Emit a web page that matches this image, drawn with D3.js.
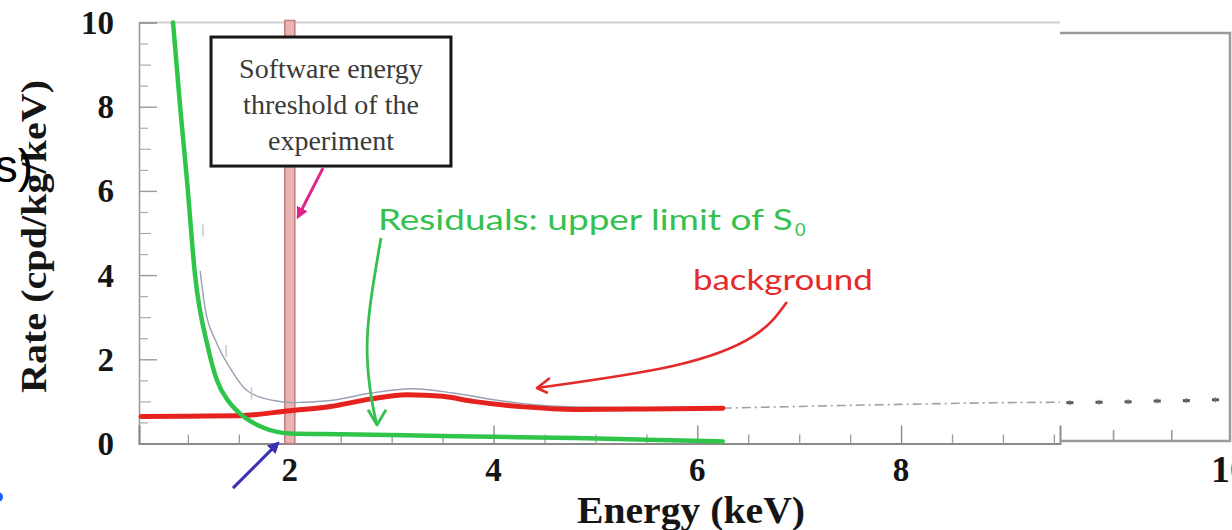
<!DOCTYPE html>
<html>
<head>
<meta charset="utf-8">
<script src="https://cdn.jsdelivr.net/npm/d3@7"></script>
<style>
  html, body { margin: 0; padding: 0; background: #ffffff; }
  svg { display: block; }
</style>
</head>
<body>
<svg id="chart" width="1232" height="530"></svg>
<script>
// ---- data (energy in keV, rate in cpd/kg/keV) ----
const residualE    = [0.854, 0.92, 0.991, 1.07, 1.197, 1.285, 1.40, 1.511, 1.737, 2.0, 2.5, 3.0, 3.5, 4.0, 4.8, 5.5, 6.25];
const residualRate = [10.0, 8.1, 6.25, 4.0, 2.28, 1.50, 1.0, 0.71, 0.38, 0.24, 0.22, 0.20, 0.18, 0.16, 0.13, 0.09, 0.05];

const backgroundE    = [0.54, 1.0, 1.5, 2.0, 2.4, 2.8, 3.15, 3.5, 3.8, 4.3, 4.8, 5.5, 6.25];
const backgroundRate = [0.64, 0.65, 0.66, 0.78, 0.88, 1.06, 1.16, 1.12, 1.0, 0.87, 0.81, 0.82, 0.84];

const totalE    = [1.12, 1.17, 1.28, 1.41, 1.58, 1.84, 2.03, 2.4, 2.8, 3.2, 3.6, 4.0, 4.4, 5.0, 6.25];
const totalRate = [4.1, 3.2, 2.4, 1.81, 1.26, 1.02, 0.97, 1.02, 1.2, 1.3, 1.2, 1.04, 0.92, 0.86, 0.84];

const extrapE    = [6.25, 7.0, 8.0, 9.0, 9.56];
const extrapRate = [0.84, 0.88, 0.93, 0.97, 0.98];

const lowPointE    = [1.148, 1.375, 1.625];
const lowPointRate = [5.06, 2.2, 1.19];

const highPointE    = [8.625, 8.875, 9.125, 9.375, 9.625, 9.875];
const highPointRate = [0.94, 0.95, 0.96, 0.98, 0.99, 1.01];

const thresholdE = 2.0;

const yTickValues = [0, 2, 4, 6, 8, 10];
const xTickValues = [2, 4, 6, 8];

// ---- scales ----
const x  = d3.scaleLinear().domain([0.52, 9.56]).range([139, 1060]);
const y  = d3.scaleLinear().domain([0, 10]).range([443.5, 22.5]);
// continuation panel on the right
const xR = d3.scaleLinear().domain([8.54, 10]).range([1060, 1230]);
const yR = d3.scaleLinear().domain([0, 10]).range([441, 33]);

const svg = d3.select("#chart");
const zip = (a, b) => a.map((v, i) => [v, b[i]]);

const serif = "'Liberation Serif', 'DejaVu Serif', serif";
const hand  = "'Lato', 'Open Sans', sans-serif";

// ---- frame & axes (main panel) ----
svg.append("line").attr("x1", x(0.52)).attr("x2", x(9.56))
  .attr("y1", y(10)).attr("y2", y(10)).attr("stroke", "#cfcfcf").attr("stroke-width", 2);

const yAxis = d3.axisRight(y).tickValues(yTickValues).tickSize(18).tickFormat("");
const gy = svg.append("g").attr("transform", `translate(${x(0.52)},0)`).call(yAxis);
gy.select(".domain").attr("stroke", "#9a9a9a").attr("stroke-width", 1.6);
gy.selectAll(".tick line").attr("stroke", "#9a9a9a").attr("stroke-width", 1.4);

const yMinor = d3.axisRight(y).tickValues(d3.range(0.5, 10, 1)).tickSize(9).tickFormat("");
const gym = svg.append("g").attr("transform", `translate(${x(0.52)},0)`).call(yMinor);
gym.select(".domain").remove();
gym.selectAll(".tick line").attr("stroke", "#aaaaaa").attr("stroke-width", 1.2);
const yOdd = d3.axisRight(y).tickValues([1, 3, 5, 7, 9]).tickSize(12).tickFormat("");
const gyo = svg.append("g").attr("transform", `translate(${x(0.52)},0)`).call(yOdd);
gyo.select(".domain").remove();
gyo.selectAll(".tick line").attr("stroke", "#aaaaaa").attr("stroke-width", 1.2);

const xAxis = d3.axisTop(x).tickValues(xTickValues).tickSize(18).tickFormat("");
const gx = svg.append("g").attr("transform", `translate(0,${y(0)})`).call(xAxis);
gx.select(".domain").attr("stroke", "#8a8a8a").attr("stroke-width", 2);
gx.selectAll(".tick line").attr("stroke", "#8a8a8a").attr("stroke-width", 1.4);
const xMinor = d3.axisTop(x).tickValues(d3.range(1, 9.6, 0.5).filter(v => v % 2 !== 0)).tickSize(9).tickFormat("");
const gxm = svg.append("g").attr("transform", `translate(0,${y(0)})`).call(xMinor);
gxm.select(".domain").remove();
gxm.selectAll(".tick line").attr("stroke", "#9a9a9a").attr("stroke-width", 1.3);

// tick labels
svg.append("g").selectAll("text").data(yTickValues).join("text")
  .attr("x", 114).attr("y", d => y(d)).attr("dy", "0.35em")
  .attr("text-anchor", "end")
  .attr("font-family", serif).attr("font-weight", "bold").attr("font-size", 33)
  .attr("fill", "#151515").text(d => d);

svg.append("g").selectAll("text").data(xTickValues).join("text")
  .attr("x", d => x(d)).attr("y", 481)
  .attr("text-anchor", "middle")
  .attr("font-family", serif).attr("font-weight", "bold").attr("font-size", 33)
  .attr("fill", "#151515").text(d => d);

// axis titles
svg.append("text")
  .attr("transform", "translate(46,236.5) rotate(-90)")
  .attr("text-anchor", "middle")
  .attr("font-family", serif).attr("font-weight", "bold").attr("font-size", 35)
  .attr("textLength", 313).attr("lengthAdjust", "spacingAndGlyphs")
  .attr("fill", "#151515").text("Rate (cpd/kg/keV)");

svg.append("text")
  .attr("x", 691).attr("y", 523).attr("text-anchor", "middle")
  .attr("font-family", serif).attr("font-weight", "bold").attr("font-size", 37)
  .attr("textLength", 228).attr("lengthAdjust", "spacingAndGlyphs")
  .attr("fill", "#151515").text("Energy (keV)");

// ---- continuation panel on the right ----
const rp = svg.append("g");
rp.append("path")
  .attr("d", `M${xR(8.54)},${yR(10)} H${xR(10)} V${yR(0)} H${xR(8.54)}`)
  .attr("fill", "none").attr("stroke", "#9a9a9a").attr("stroke-width", 2.5);
rp.selectAll("line.tk").data([9.0, 9.5]).join("line").attr("class", "tk")
  .attr("x1", d => xR(d)).attr("x2", d => xR(d))
  .attr("y1", yR(0)).attr("y2", yR(0) - 11)
  .attr("stroke", "#9a9a9a").attr("stroke-width", 1.6);
rp.append("text")
  .attr("x", xR(10)).attr("y", 482).attr("text-anchor", "middle")
  .attr("font-family", serif).attr("font-weight", "bold").attr("font-size", 38)
  .attr("fill", "#151515").text("10");

const hp = rp.selectAll("g.pt").data(zip(highPointE, highPointRate)).join("g").attr("class", "pt")
  .attr("transform", d => `translate(${xR(d[0])},${yR(d[1])})`);
hp.append("line").attr("x1", -3.5).attr("x2", 3.5).attr("stroke", "#555").attr("stroke-width", 3);
hp.append("line").attr("y1", -2.5).attr("y2", 2.5).attr("stroke", "#777").attr("stroke-width", 1.2);

// ---- threshold band ----
svg.append("rect")
  .attr("x", x(thresholdE) - 5).attr("width", 10)
  .attr("y", y(10) - 2).attr("height", y(0) - y(10) + 2)
  .attr("fill", "#ecb3b3").attr("stroke", "#c48080").attr("stroke-width", 1.6);

// ---- curves ----
const line = d3.line().x(d => x(d[0])).y(d => y(d[1])).curve(d3.curveMonotoneX);

svg.append("path").datum(zip(extrapE, extrapRate))
  .attr("d", line).attr("fill", "none")
  .attr("stroke", "#a0a0a8").attr("stroke-width", 1.6).attr("stroke-dasharray", "9,4,2,4");

svg.append("path").datum(zip(totalE, totalRate))
  .attr("d", line).attr("fill", "none")
  .attr("stroke", "#9aa0b4").attr("stroke-width", 1.4);

svg.append("g").selectAll("line").data(zip(lowPointE, lowPointRate)).join("line")
  .attr("x1", d => x(d[0])).attr("x2", d => x(d[0]))
  .attr("y1", d => y(d[1]) - 6).attr("y2", d => y(d[1]) + 6)
  .attr("stroke", "#c0c4ce").attr("stroke-width", 1.4);

svg.append("path").datum(zip(backgroundE, backgroundRate))
  .attr("d", line).attr("fill", "none")
  .attr("stroke", "#e5221e").attr("stroke-width", 5).attr("stroke-linecap", "round");

svg.append("path").datum(zip(residualE, residualRate))
  .attr("d", line).attr("fill", "none")
  .attr("stroke", "#2fc44a").attr("stroke-width", 4.5).attr("stroke-linecap", "round");

// ---- annotations ----
// threshold note box
svg.append("rect")
  .attr("x", x(1.227)).attr("y", y(9.655))
  .attr("width", x(3.582) - x(1.227)).attr("height", y(6.59) - y(9.655))
  .attr("fill", "#ffffff").attr("stroke", "#161616").attr("stroke-width", 3);
const noteLines = ["Software energy", "threshold of the", "experiment"];
svg.append("g").selectAll("text").data(noteLines).join("text")
  .attr("x", (x(1.227) + x(3.582)) / 2)
  .attr("y", (d, i) => 78 + i * 36)
  .attr("text-anchor", "middle")
  .attr("font-family", serif).attr("font-size", 28)
  .attr("fill", "#3a3a3a").text(d => d);

const defs = svg.append("defs");
function filledHead(id, color) {
  defs.append("marker").attr("id", id)
    .attr("viewBox", "0 0 10 10").attr("refX", 8).attr("refY", 5)
    .attr("markerWidth", 4).attr("markerHeight", 4).attr("orient", "auto")
    .append("path").attr("d", "M0,0 L10,5 L0,10 z").attr("fill", color);
}
filledHead("headMagenta", "#e0258c");
filledHead("headBlue", "#3b30b4");

const arrowLine = d3.line().x(d => x(d[0])).y(d => y(d[1])).curve(d3.curveNatural);
const straight = d3.line().x(d => x(d[0])).y(d => y(d[1]));

// magenta arrow to the threshold band
svg.append("path").datum([[2.326, 6.54], [2.08, 5.38]])
  .attr("d", straight).attr("fill", "none")
  .attr("stroke", "#e0258c").attr("stroke-width", 3)
  .attr("marker-end", "url(#headMagenta)");

// blue arrow from below the axis
svg.append("path").datum([[1.442, -1.06], [1.884, 0.01]])
  .attr("d", straight).attr("fill", "none")
  .attr("stroke", "#3b30b4").attr("stroke-width", 3)
  .attr("marker-end", "url(#headBlue)");

// residuals label and arrow
svg.append("text")
  .attr("x", x(2.865)).attr("y", y(5.07))
  .attr("font-family", hand).attr("font-size", 28)
  .attr("textLength", 415).attr("lengthAdjust", "spacingAndGlyphs")
  .attr("fill", "#35c150").text("Residuals: upper limit of S");
svg.append("text")
  .attr("x", x(2.865) + 417).attr("y", y(5.07) + 6)
  .attr("font-family", hand).attr("font-size", 18)
  .attr("fill", "#35c150").text("0");

svg.append("path").datum([[2.895, 4.88], [2.79, 3.3], [2.76, 2.1], [2.80, 1.1], [2.856, 0.44]])
  .attr("d", arrowLine).attr("fill", "none")
  .attr("stroke", "#35c150").attr("stroke-width", 2.8);
svg.append("path").datum([[2.768, 0.80], [2.856, 0.44], [2.944, 0.80]])
  .attr("d", straight).attr("fill", "none")
  .attr("stroke", "#35c150").attr("stroke-width", 2.8).attr("stroke-linejoin", "round");

// background label and arrow
svg.append("text")
  .attr("x", x(5.957)).attr("y", y(3.646))
  .attr("font-family", hand).attr("font-size", 28)
  .attr("textLength", 180).attr("lengthAdjust", "spacingAndGlyphs")
  .attr("fill", "#e42a2a").text("background");

svg.append("path").datum([[6.879, 3.36], [6.55, 2.55], [5.76, 1.84], [4.426, 1.318]])
  .attr("d", arrowLine).attr("fill", "none")
  .attr("stroke", "#e42a2a").attr("stroke-width", 2.6);
svg.append("path").datum([[4.553, 1.556], [4.426, 1.318], [4.533, 1.20]])
  .attr("d", straight).attr("fill", "none")
  .attr("stroke", "#e42a2a").attr("stroke-width", 2.6).attr("stroke-linejoin", "round");

// fragments at the left edge
svg.append("text")
  .attr("x", 33).attr("y", 182).attr("text-anchor", "end")
  .attr("font-family", "'Liberation Sans', Arial, sans-serif").attr("font-size", 46)
  .attr("fill", "#000").text("s)");
svg.append("circle").attr("cx", -2).attr("cy", 497).attr("r", 5).attr("fill", "#1a5cff");
</script>
</body>
</html>
